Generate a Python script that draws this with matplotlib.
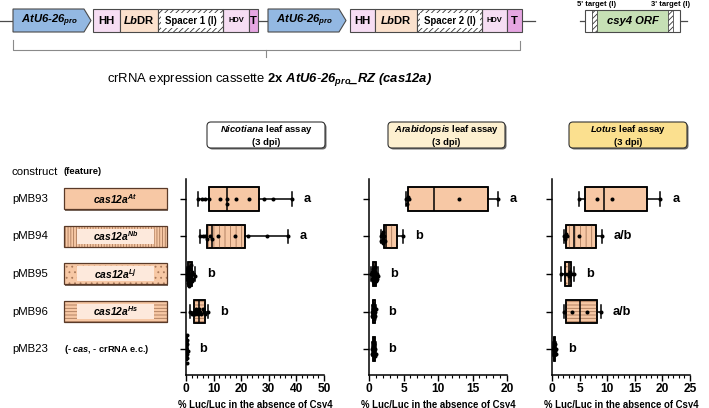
import matplotlib
matplotlib.use('Agg')
import matplotlib.pyplot as plt
import matplotlib.patches as patches
from matplotlib.ticker import MultipleLocator
import numpy as np

plt.rcParams['font.family'] = ['Liberation Sans', 'DejaVu Sans']
plt.rcParams['mathtext.fontset'] = 'custom'
plt.rcParams['mathtext.it'] = 'Liberation Sans:italic:bold'
plt.rcParams['mathtext.sf'] = 'Liberation Sans:italic:bold'   # bold italic incl. digits
plt.rcParams['mathtext.rm'] = 'Liberation Sans:bold'
plt.rcParams['mathtext.bf'] = 'Liberation Sans:bold'
plt.rcParams['hatch.linewidth'] = 0.6

W, H = 709, 408

# ---- data ----
constructs = ['pMB93', 'pMB94', 'pMB95', 'pMB96', 'pMB23']
features = ['At', 'Nb', 'Lj', 'Hs', None]
box_hatch = ['', '|||', '....', '-----', '']
feat_hatch = ['', '||||||', '...', '-----', '']

assays = ['Nicotiana', 'Arabidopsis', 'Lotus']
assay_colors = ['white', '#fdf0d0', '#fbe08f']
x_max = [50, 20, 25]
x_major = [10, 5, 5]
x_minor = [2, 1, 1]

# Nicotiana
nic_pts = [
    [4.5, 5.7, 6.9, 8.4, 12.4, 14.7, 15.0, 18.0, 22.9, 28.3, 31.7, 38.4],
    [5.0, 6.0, 6.9, 7.7, 8.7, 9.5, 11.7, 17.8, 22.6, 29.5, 37.0],
    [0.2, 0.4, 0.5, 0.7, 0.8, 0.9, 1.0, 1.1, 1.2, 1.3, 1.4, 1.5, 1.6, 1.7,
     1.9, 2.0, 2.2, 2.4, 2.7, 3.2],
    [1.6, 2.2, 2.8, 3.2, 3.6, 4.0, 4.4, 4.8, 5.2, 5.6, 6.0, 6.6, 7.0, 8.0],
    [0.1, 0.2, 0.25, 0.3, 0.35, 0.4, 0.5, 0.6],
]
nic_q1 = [8.3, 7.5, 0.8, 2.9, 0.25]
nic_med = [15.0, 9.5, 1.35, 4.6, 0.33]
nic_q3 = [26.6, 21.4, 2.1, 6.8, 0.45]
nic_lo = [4.5, 5.0, 0.2, 1.6, 0.1]
nic_hi = [38.4, 37.0, 3.2, 8.0, 0.6]
nic_letters = ['a', 'a', 'b', 'b', 'b']

# Arabidopsis
ara_pts = [
    [5.4, 5.5, 5.6, 5.8, 13.0, 18.7],
    [1.7, 1.8, 1.9, 2.0, 2.0, 2.1, 2.2, 2.3, 4.9],
    [0.3, 0.4, 0.5, 0.55, 0.6, 0.65, 0.7, 0.75, 0.8, 0.85, 0.9, 0.95, 1.0,
     1.1, 1.2, 1.35],
    [0.4, 0.5, 0.55, 0.6, 0.65, 0.7, 0.75, 0.8, 0.9, 1.0],
    [0.4, 0.5, 0.55, 0.6, 0.7, 0.75, 0.8, 0.9, 1.0],
]
ara_q1 = [5.7, 2.2, 0.55, 0.55, 0.55]
ara_med = [9.4, 2.4, 0.8, 0.65, 0.7]
ara_q3 = [17.2, 4.0, 1.0, 0.8, 0.8]
ara_lo = [5.4, 1.7, 0.3, 0.4, 0.4]
ara_hi = [18.7, 4.9, 1.35, 1.0, 1.0]
ara_letters = ['a', 'b', 'b', 'b', 'b']

# Lotus
lot_pts = [
    [4.9, 8.1, 10.9, 19.6],
    [2.1, 2.3, 2.5, 2.7, 4.9, 9.0],
    [1.7, 2.4, 2.9, 3.1, 3.3, 3.5, 4.0],
    [2.1, 3.6, 6.4, 8.8],
    [0.2, 0.3, 0.4, 0.5, 0.6, 0.7, 0.8],
]
lot_q1 = [5.9, 2.5, 2.4, 2.5, 0.3]
lot_med = [9.5, 3.9, 3.1, 5.1, 0.45]
lot_q3 = [17.3, 7.9, 3.5, 8.1, 0.6]
lot_lo = [4.9, 2.1, 1.7, 2.1, 0.2]
lot_hi = [19.6, 9.0, 4.0, 8.8, 0.8]
lot_letters = ['a', 'a/b', 'b', 'a/b', 'b']

panel_data = [
    (nic_pts, nic_q1, nic_med, nic_q3, nic_lo, nic_hi, nic_letters),
    (ara_pts, ara_q1, ara_med, ara_q3, ara_lo, ara_hi, ara_letters),
    (lot_pts, lot_q1, lot_med, lot_q3, lot_lo, lot_hi, lot_letters),
]

PEACH = '#f7c8a5'
LIGHT = '#fde9dc'
HATCH_C = '#a9795a'
EDGE = '#4a4a4a'

fig = plt.figure(figsize=(W / 100, H / 100), dpi=100)

# overlay in pixel coordinates (y down) for the diagram / labels
ov = fig.add_axes([0, 0, 1, 1])
ov.set_xlim(0, W)
ov.set_ylim(H, 0)
ov.axis('off')
ov.patch.set_visible(False)


def px_axes(left, top, right, bottom):
    return fig.add_axes([left / W, 1 - bottom / H, (right - left) / W, (bottom - top) / H])


def swarm(vals, sx, d=3.1):
    # simple beeswarm: offsets in pixels
    placed, offs = [], []
    for v in vals:
        x = v * sx
        for k in range(60):
            o = ((k + 1) // 2) * d * 0.75 * (1 if k % 2 else -1)
            if all((x - px) ** 2 + (o - po) ** 2 >= (d * 0.8) ** 2 for px, po in placed):
                break
        placed.append((x, o))
        offs.append(o)
    return np.array(offs)


# ---- top diagram ----
y0, y1 = 9, 32
yc = (y0 + y1) / 2
for xa, xb in [(0, 13), (258, 268), (522, 535), (580, 687)]:
    ov.plot([xa, xb], [yc, yc], color=EDGE, lw=0.9, zorder=1)

promo_fc = '#93b8e2'
for px0 in [13, 268]:
    poly = patches.Polygon([(px0, y0), (px0 + 71, y0), (px0 + 78, yc), (px0 + 71, y1), (px0, y1)],
                           closed=True, facecolor=promo_fc, edgecolor=EDGE, lw=0.8, zorder=2)
    ov.add_patch(poly)
    ov.text(px0 + 37, yc + 0.5, r'AtU6-26$_{\mathsf{pro}}$', ha='center', va='center',
            fontsize=8.1, fontweight='bold', style='italic', zorder=3)

cassettes = [
    [(93, 120, 'HH'), (120, 158, 'LbDR'), (158, 223, 'Spacer 1 (l)'), (223, 249, 'HDV'), (249, 258, 'T')],
    [(350, 375, 'HH'), (375, 417, 'LbDR'), (417, 482, 'Spacer 2 (l)'), (482, 507, 'HDV'), (507, 522, 'T')],
]
part_colors = {'HH': '#f6ddf3', 'LbDR': '#fbe1cd', 'HDV': '#f6ddf3', 'T': '#e6a6e2'}
for cas in cassettes:
    for xa, xb, lab in cas:
        if lab.startswith('Spacer'):
            ov.add_patch(patches.Rectangle((xa, y0), xb - xa, y1 - y0, facecolor='white',
                                           edgecolor='#333333', hatch='//////', lw=0, zorder=2))
            ov.add_patch(patches.Rectangle((xa + 2.5, y0 + 4), xb - xa - 5, y1 - y0 - 8,
                                           facecolor='white', edgecolor='none', zorder=2.1))
            ov.add_patch(patches.Rectangle((xa, y0), xb - xa, y1 - y0, fill=False,
                                           edgecolor=EDGE, lw=0.8, zorder=2.2))
            ov.text((xa + xb) / 2, yc, lab, ha='center', va='center', fontsize=6.9,
                    fontweight='bold', zorder=3)
            continue
        ov.add_patch(patches.Rectangle((xa, y0), xb - xa, y1 - y0, facecolor=part_colors[lab],
                                       edgecolor=EDGE, lw=0.8, zorder=2))
        if lab == 'LbDR':
            txt, fs = r'$\mathsf{Lb}$DR', 8.1
        elif lab == 'HDV':
            txt, fs = 'HDV', 5.4
        else:
            txt, fs = lab, 8.1
        ov.text((xa + xb) / 2, yc, txt, ha='center', va='center', fontsize=fs,
                fontweight='bold', zorder=3)

# csy4 target
csy = [(585, 592, 'white', ''), (592, 597, 'white', '//////'), (597, 668, '#c6e0b5', ''),
       (668, 673, 'white', '//////'), (673, 680, 'white', '')]
for xa, xb, fc, h in csy:
    ov.add_patch(patches.Rectangle((xa, y0 + 1), xb - xa, y1 - y0 - 1, facecolor=fc,
                                   edgecolor='#333333' if h else 'none', hatch=h or None,
                                   lw=0, zorder=2))
ov.add_patch(patches.Rectangle((585, y0 + 1), 95, y1 - y0 - 1, fill=False, edgecolor=EDGE,
                               lw=0.8, zorder=2.2))
for xa in (592, 597, 668, 673):
    ov.plot([xa, xa], [y0 + 1, y1], color=EDGE, lw=0.6, zorder=2.2)
ov.text(632.5, yc + 1, 'csy4 ORF', ha='center', va='center', fontsize=8.1,
        fontweight='bold', style='italic', zorder=3)
ov.text(597, 4.5, "5' target (l)", ha='center', va='center', fontsize=5.5, fontweight='bold')
ov.text(671, 4.5, "3' target (l)", ha='center', va='center', fontsize=5.5, fontweight='bold')

# bracket
br = '#8a8a8a'
ov.plot([13, 13, 520, 520], [40, 50, 50, 41], color=br, lw=0.8)
ov.plot([266, 266], [50, 57], color=br, lw=0.8)
ov.text(270, 80, r'crRNA expression cassette $\mathbf{2x}\ \mathsf{AtU6}$-'
        r'$\mathsf{26}_{\mathsf{pro}}\mathsf{\_RZ\ (cas12a)}$',
        ha='center', va='center', fontsize=9.4)

# ---- panels ----
panel_px = [(186, 179, 324, 375), (369, 179, 507, 375), (552, 179, 690, 375)]
title_px = [(207, 325), (388, 505), (569, 687)]
rows = np.arange(len(constructs))
axes = []
for k, (pts, q1, med, q3, lo, hi, letters) in enumerate(panel_data):
    l, t, r, b = panel_px[k]
    ax = px_axes(l, t, r, b)
    axes.append(ax)
    ax.set_xlim(0, x_max[k])
    ax.set_ylim(4.69, -0.53)
    sx = (r - l) / x_max[k]
    sy = (b - t) / (4.69 + 0.53)

    stats = [dict(med=med[i], q1=q1[i], q3=q3[i], whislo=lo[i], whishi=hi[i], fliers=[])
             for i in rows]
    lw = 1.1
    bp = ax.bxp(stats, positions=rows, widths=0.62, orientation='horizontal', patch_artist=True,
                showfliers=False, capwidths=0.36, manage_ticks=False,
                boxprops=dict(facecolor=PEACH, edgecolor='black', lw=lw),
                medianprops=dict(color='black', lw=lw, zorder=2.6),
                whiskerprops=dict(color='black', lw=lw),
                capprops=dict(color='black', lw=lw))
    for i, box in enumerate(bp['boxes']):
        z = box.get_zorder()
        if box_hatch[i]:
            ax.add_patch(patches.PathPatch(box.get_path(), fill=False, hatch=box_hatch[i],
                                           edgecolor=HATCH_C, lw=0, zorder=z + 0.1))
        ax.add_patch(patches.PathPatch(box.get_path(), fill=False, edgecolor='black',
                                       lw=lw, zorder=z + 0.2))

    for i in rows:
        offs = swarm(pts[i], sx) / sy
        ax.plot(pts[i], i + offs, 'o', color='black', ms=2.9, mew=0, zorder=4)
        ax.annotate(letters[i], xy=(hi[i], i), xytext=(12, 0), textcoords='offset pixels',
                    ha='left', va='center', fontsize=9.2, fontweight='bold')

    for side in ('top', 'right'):
        ax.spines[side].set_visible(False)
    for side in ('left', 'bottom'):
        ax.spines[side].set_linewidth(1.1)
    ax.set_yticks(rows)
    ax.set_yticklabels([])
    ax.set_xticks(np.arange(0, x_max[k] + 1, x_major[k]))
    ax.xaxis.set_minor_locator(MultipleLocator(x_minor[k]))
    ax.tick_params(axis='both', which='major', length=4, width=1.0, pad=2)
    ax.tick_params(axis='x', which='minor', length=2.5, width=0.8)
    for lab in ax.get_xticklabels():
        lab.set_fontweight('bold')
        lab.set_fontsize(8.6)
    ax.set_xlabel('% Luc/Luc in the absence of Csy4', fontsize=6.9, fontweight='bold', labelpad=3)
    ax.patch.set_visible(False)

    # title box
    xa, xb = title_px[k]
    ov.add_patch(patches.FancyBboxPatch((xa + 1.5, 122 + 1.5), xb - xa, 26,
                                        boxstyle='round,pad=0,rounding_size=4',
                                        facecolor='#6a6a6a', edgecolor='none', zorder=1))
    ov.add_patch(patches.FancyBboxPatch((xa, 122), xb - xa, 26,
                                        boxstyle='round,pad=0,rounding_size=4',
                                        facecolor=assay_colors[k], edgecolor='#333333',
                                        lw=0.8, zorder=2))
    ov.text((xa + xb) / 2, 135, '$\\mathsf{' + assays[k] + '}$ leaf assay\n(3 dpi)',
            ha='center', va='center', fontsize=6.8, fontweight='bold', linespacing=1.2, zorder=3)

# ---- left labels ----
ax0 = axes[0]
row_y = [H - ax0.transData.transform((0, i))[1] for i in rows]
ov.text(12, 172, 'construct', ha='left', va='center', fontsize=8.2)
ov.text(64, 172, '(feature)', ha='left', va='center', fontsize=6.8, fontweight='bold')
fx0, fx1, fh = 64, 167, 21
for i, yy in enumerate(row_y):
    ov.text(12, yy, constructs[i], ha='left', va='center', fontsize=8.2)
    if features[i] is None:
        ov.text(fx0, yy, r'(- $\mathsf{cas}$, - crRNA e.c.)', ha='left', va='center',
                fontsize=6.6, fontweight='bold')
        continue
    ov.add_patch(patches.Rectangle((fx0 + 1.2, yy - fh / 2 + 1.2), fx1 - fx0, fh,
                                   facecolor='#7a6a60', edgecolor='none', zorder=1))
    ov.add_patch(patches.Rectangle((fx0, yy - fh / 2), fx1 - fx0, fh, facecolor=PEACH,
                                   edgecolor='none', zorder=2))
    if feat_hatch[i]:
        ov.add_patch(patches.Rectangle((fx0, yy - fh / 2), fx1 - fx0, fh, fill=False,
                                       hatch=feat_hatch[i], edgecolor=HATCH_C, lw=0, zorder=2.1))
        ov.add_patch(patches.Rectangle((fx0 + 13, yy - fh / 2 + 3), fx1 - fx0 - 26, fh - 6,
                                       facecolor=LIGHT, edgecolor='none', zorder=2.2))
    ov.add_patch(patches.Rectangle((fx0, yy - fh / 2), fx1 - fx0, fh, fill=False,
                                   edgecolor='#5a3a28', lw=0.9, zorder=2.3))
    ov.text((fx0 + fx1) / 2, yy, 'cas12a$^{\\mathsf{' + features[i] + '}}$',
            ha='center', va='center', fontsize=7.4, fontweight='bold', style='italic', zorder=3)

fig.savefig('out.png', dpi=100)
